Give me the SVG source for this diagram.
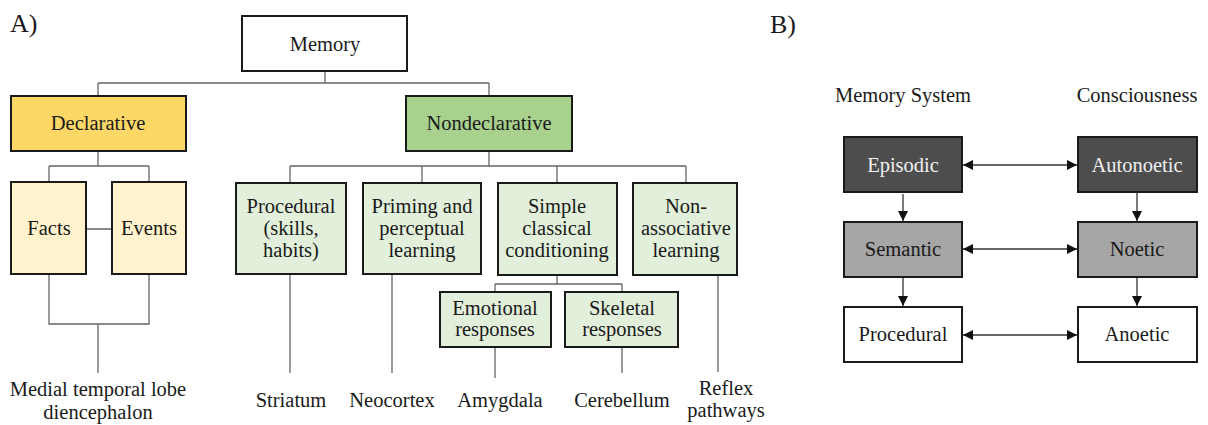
<svg xmlns="http://www.w3.org/2000/svg" width="1208" height="425" viewBox="0 0 1208 425">
<defs>
<style>
.box{stroke:#1a1a1a;stroke-width:2}
.white{fill:#ffffff}
.decl{fill:#fdd867}
.declc{fill:#fff2cc}
.nond{fill:#a9d18e}
.nondc{fill:#e2efda}
.dark{fill:#4d4d4d}
.mid{fill:#a6a6a6}
.conn{fill:none;stroke:#666;stroke-width:1.3}
.arr{fill:none;stroke:#333;stroke-width:1.3}
</style>
<marker id="ah" viewBox="0 0 10 10" refX="10" refY="5" markerWidth="10" markerHeight="10" markerUnits="userSpaceOnUse" orient="auto-start-reverse">
<path d="M0,0 L10,5 L0,10 Z" fill="#111"/>
</marker>
</defs>
<rect width="1208" height="425" fill="#ffffff"/>
<g font-family="Liberation Serif, serif" font-size="20.5" text-anchor="middle" fill="#1a1a1a">
<text x="10" y="32" font-size="26" text-anchor="start">A)</text>
<text x="770" y="33" font-size="26" text-anchor="start">B)</text>

<g id="connectors">
<path class="conn" d="M325,71 V83 M98,83 H489 M98,83 V96 M489,83 V96"/>
<path class="conn" d="M98,151 V166 M49,166 H149 M49,166 V182 M149,166 V182 M86,229 H112"/>
<path class="conn" d="M49,274 V324 H149 V274 M98,324 V373"/>
<path class="conn" d="M489,151 V166 M290,166 H686 M290,166 V183 M422,166 V183 M557,166 V183 M686,166 V183"/>
<path class="conn" d="M290,274 V373 M392,274 V373 M718,275 V372"/>
<path class="conn" d="M557,275 V284 M495,284 H622 M495,284 V292 M622,284 V292"/>
<path class="conn" d="M495,347 V378 M622,347 V373"/>
<path class="arr" marker-start="url(#ah)" marker-end="url(#ah)" d="M963,165 H1077"/>
<path class="arr" marker-start="url(#ah)" marker-end="url(#ah)" d="M963,249 H1077"/>
<path class="arr" marker-start="url(#ah)" marker-end="url(#ah)" d="M963,335 H1077"/>
<path class="arr" marker-end="url(#ah)" d="M903,194 V221"/>
<path class="arr" marker-end="url(#ah)" d="M903,278 V306"/>
<path class="arr" marker-end="url(#ah)" d="M1137,193 V221"/>
<path class="arr" marker-end="url(#ah)" d="M1137,278 V306"/>
</g>

<g id="memory"><rect class="box white" x="242" y="16" width="165" height="55"/><text x="325" y="51">Memory</text></g>
<g id="declarative"><rect class="box decl" x="11" y="96" width="175" height="55"/><text x="98" y="130">Declarative</text></g>
<g id="nondeclarative"><rect class="box nond" x="406" y="96" width="166" height="55"/><text x="489" y="130">Nondeclarative</text></g>
<g id="facts"><rect class="box declc" x="11" y="182" width="75" height="92"/><text x="49" y="235">Facts</text></g>
<g id="events"><rect class="box declc" x="112" y="182" width="74" height="92"/><text x="149" y="235">Events</text></g>
<g id="procedural"><rect class="box nondc" x="236" y="183" width="110" height="91"/><text x="291" y="213">Procedural</text><text x="291" y="235">(skills,</text><text x="291" y="257">habits)</text></g>
<g id="priming"><rect class="box nondc" x="363" y="183" width="118" height="91"/><text x="422" y="213">Priming and</text><text x="422" y="235">perceptual</text><text x="422" y="257">learning</text></g>
<g id="simple"><rect class="box nondc" x="498" y="183" width="119" height="92"/><text x="557" y="213">Simple</text><text x="557" y="235">classical</text><text x="557" y="257">conditioning</text></g>
<g id="nonassociative"><rect class="box nondc" x="633" y="183" width="104" height="92"/><text x="686" y="213">Non-</text><text x="686" y="235">associative</text><text x="686" y="257">learning</text></g>
<g id="emotional"><rect class="box nondc" x="440" y="292" width="111" height="55"/><text x="495" y="315">Emotional</text><text x="495" y="336">responses</text></g>
<g id="skeletal"><rect class="box nondc" x="565" y="292" width="113" height="55"/><text x="622" y="315">Skeletal</text><text x="622" y="336">responses</text></g>

<g id="label-mtl"><text x="98" y="396">Medial temporal lobe</text><text x="98" y="419">diencephalon</text></g>
<g id="label-striatum"><text x="291" y="407">Striatum</text></g>
<g id="label-neocortex"><text x="392" y="407">Neocortex</text></g>
<g id="label-amygdala"><text x="500" y="407">Amygdala</text></g>
<g id="label-cerebellum"><text x="622" y="407">Cerebellum</text></g>
<g id="label-reflex"><text x="726" y="395">Reflex</text><text x="726" y="417">pathways</text></g>

<g id="header-memsys"><text x="903" y="102">Memory System</text></g>
<g id="header-consc"><text x="1137" y="102">Consciousness</text></g>
<g id="episodic"><rect class="box dark" x="844" y="137" width="118" height="55"/><text x="903" y="172" fill="#f0f0f0">Episodic</text></g>
<g id="autonoetic"><rect class="box dark" x="1078" y="137" width="119" height="55"/><text x="1137" y="172" fill="#f0f0f0">Autonoetic</text></g>
<g id="semantic"><rect class="box mid" x="844" y="222" width="118" height="55"/><text x="903" y="256">Semantic</text></g>
<g id="noetic"><rect class="box mid" x="1078" y="222" width="119" height="55"/><text x="1137" y="256">Noetic</text></g>
<g id="procedural-b"><rect class="box white" x="844" y="307" width="118" height="55"/><text x="903" y="341">Procedural</text></g>
<g id="anoetic"><rect class="box white" x="1078" y="307" width="119" height="55"/><text x="1137" y="341">Anoetic</text></g>
</g>
</svg>
